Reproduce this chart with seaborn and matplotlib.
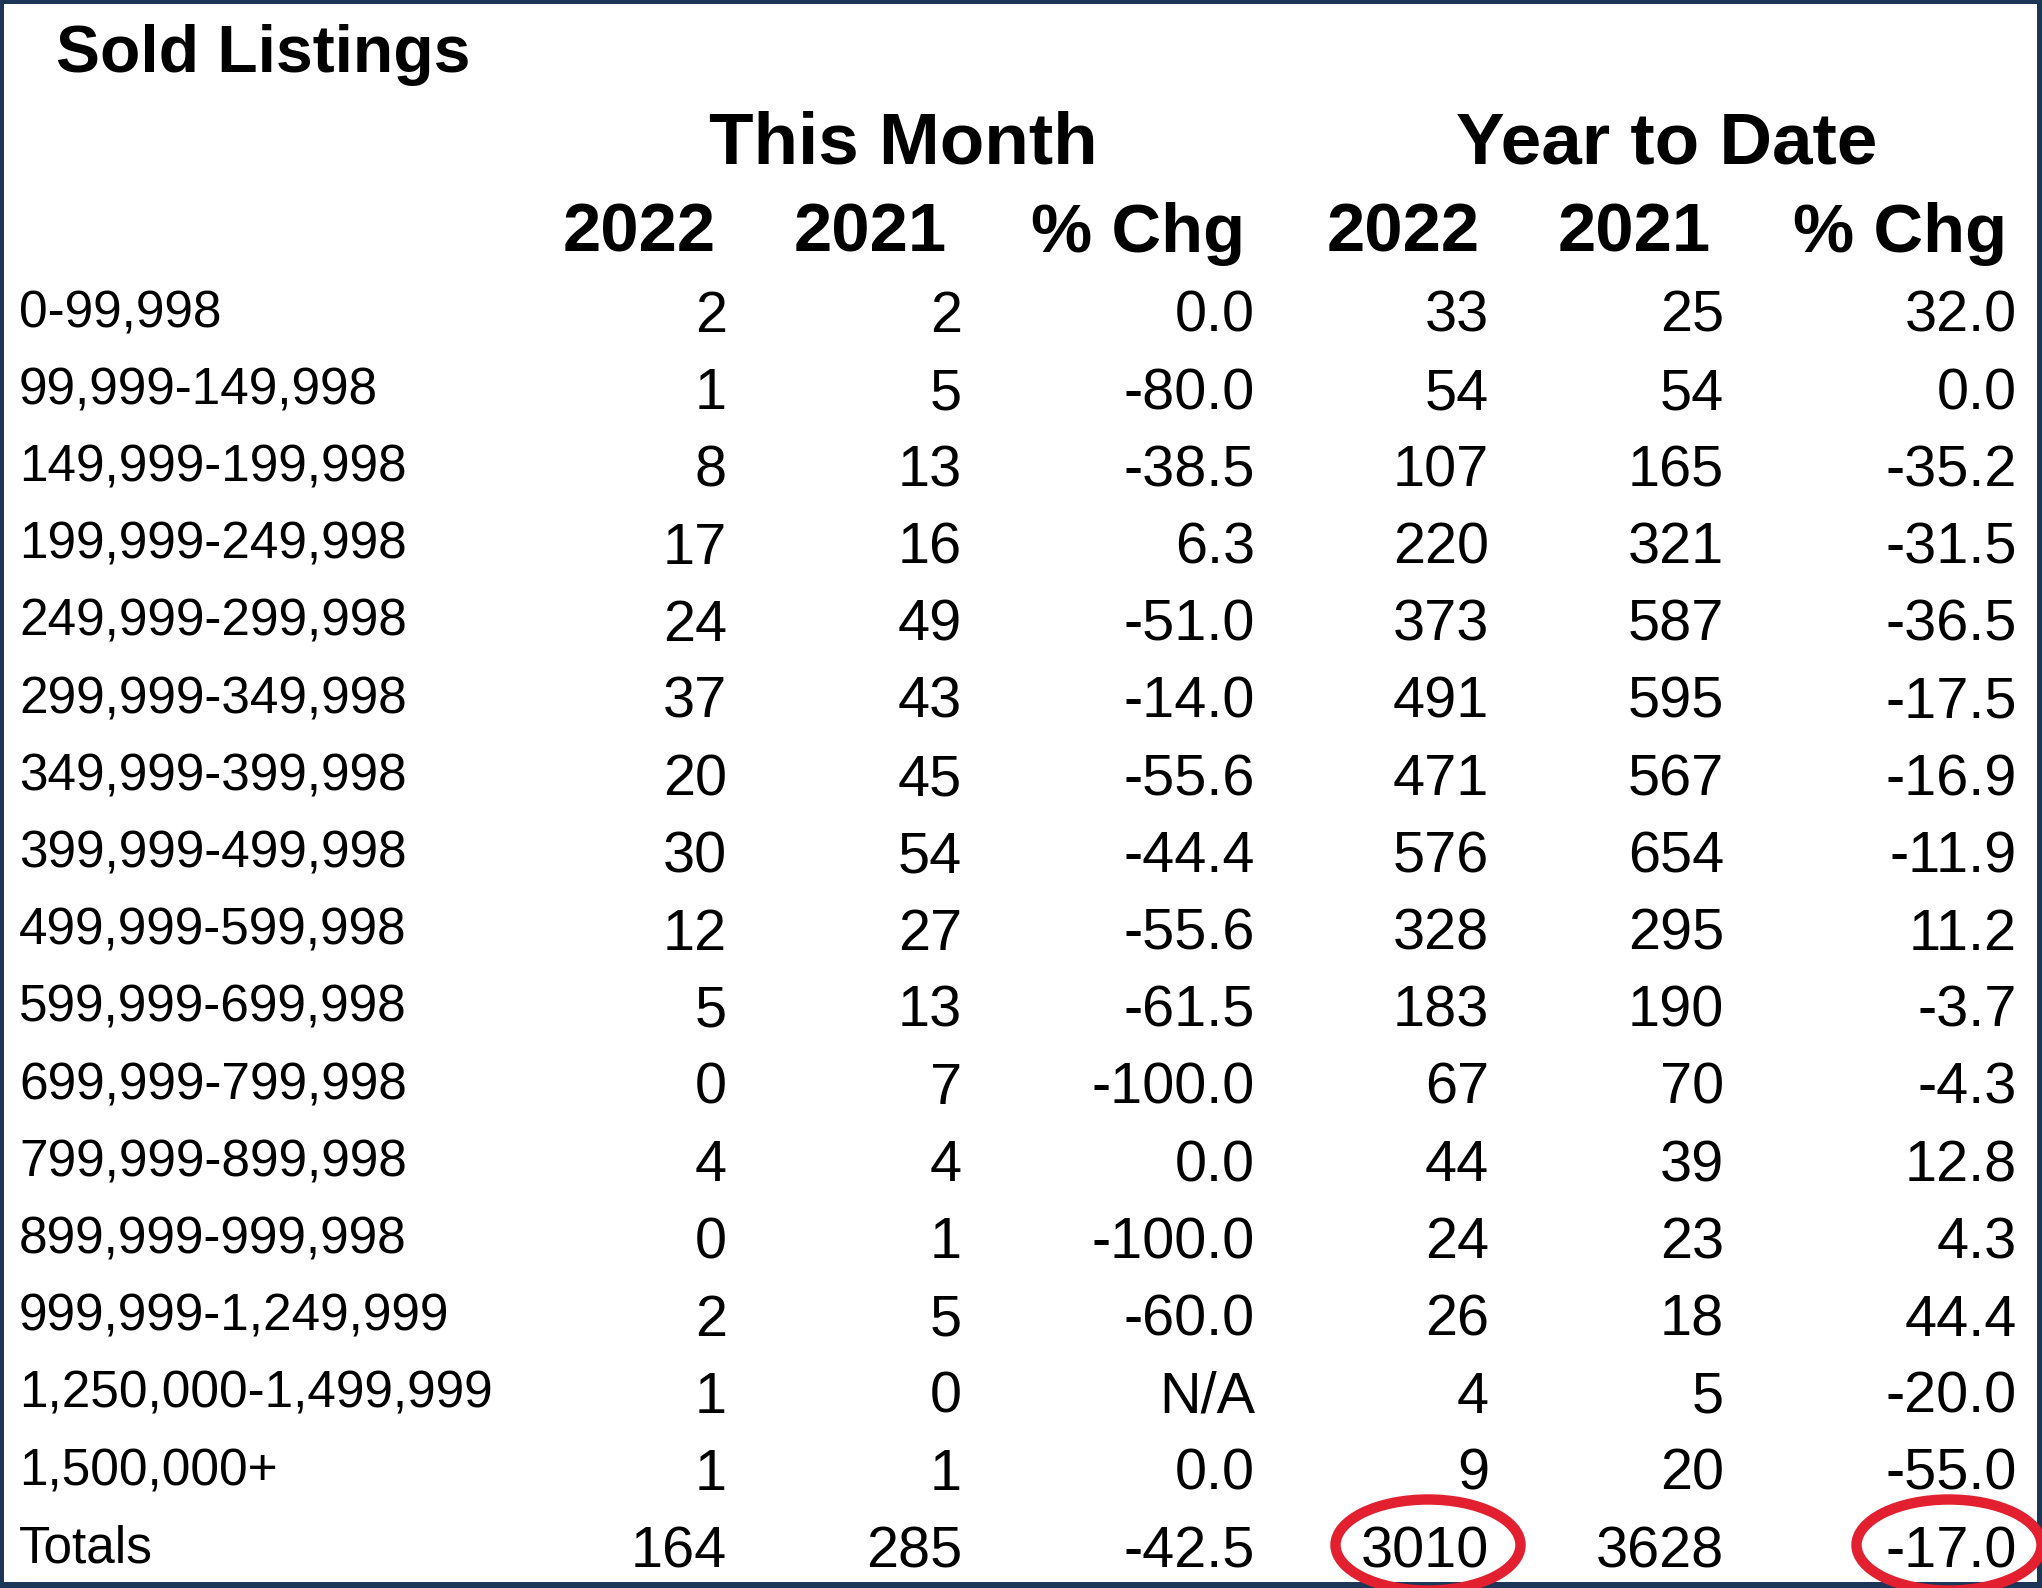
import matplotlib
matplotlib.use("Agg")
import matplotlib.pyplot as plt
from matplotlib.patches import Ellipse, Rectangle
import seaborn as sns

# table data
price_ranges = ["0-99,998", "99,999-149,998", "149,999-199,998", "199,999-249,998",
                "249,999-299,998", "299,999-349,998", "349,999-399,998", "399,999-499,998",
                "499,999-599,998", "599,999-699,998", "699,999-799,998", "799,999-899,998",
                "899,999-999,998", "999,999-1,249,999", "1,250,000-1,499,999", "1,500,000+"]
month_2022 = [2, 1, 8, 17, 24, 37, 20, 30, 12, 5, 0, 4, 0, 2, 1, 1]
month_2021 = [2, 5, 13, 16, 49, 43, 45, 54, 27, 13, 7, 4, 1, 5, 0, 1]
month_chg = [0.0, -80.0, -38.5, 6.3, -51.0, -14.0, -55.6, -44.4, -55.6, -61.5,
             -100.0, 0.0, -100.0, -60.0, None, 0.0]
ytd_2022 = [33, 54, 107, 220, 373, 491, 471, 576, 328, 183, 67, 44, 24, 26, 4, 9]
ytd_2021 = [25, 54, 165, 321, 587, 595, 567, 654, 295, 190, 70, 39, 23, 18, 5, 20]
ytd_chg = [32.0, 0.0, -35.2, -31.5, -36.5, -17.5, -16.9, -11.9, 11.2, -3.7,
           -4.3, 12.8, 4.3, 44.4, -20.0, -55.0]
totals = [164, 285, -42.5, 3010, 3628, -17.0]

col_headers = ["2022", "2021", "% Chg", "2022", "2021", "% Chg"]
group_headers = ["This Month", "Year to Date"]


def fmt(v, pct):
    if v is None:
        return "N/A"
    return f"{v:.1f}" if pct else str(v)


sns.set_theme(style="white")
plt.rcParams["font.family"] = ["Liberation Sans", "DejaVu Sans"]
plt.rcParams["text.color"] = "black"

W, H = 2042, 1588
fig = plt.figure(figsize=(W / 100, H / 100), dpi=100)
ax = fig.add_axes([0, 0, 1, 1])
ax.set_xlim(0, W)
ax.set_ylim(H, 0)
ax.axis("off")

navy = "#1D3658"
ax.add_patch(Rectangle((0, 0), W, 4, color=navy, lw=0))
ax.add_patch(Rectangle((0, 0), 4, H, color=navy, lw=0))
ax.add_patch(Rectangle((0, H - 6), W, 6, color=navy, lw=0))
ax.add_patch(Rectangle((W - 5, 0), 5, H, color=navy, lw=0))

ax.text(56, 72, "Sold Listings", fontsize=47.5, fontweight="bold", va="baseline")

group_x = [903, 1667]
for gx, g in zip(group_x, group_headers):
    ax.text(gx, 163, g, fontsize=52.5, fontweight="bold", ha="center", va="baseline")

head_x = [639, 870, 1138, 1403, 1634, 1900]
for hx, h in zip(head_x, col_headers):
    ax.text(hx, 252, h, fontsize=49.5, fontweight="bold", ha="center", va="baseline")

col_right = [727, 962, 1255, 1489, 1724, 2017]
columns = [month_2022, month_2021, month_chg, ytd_2022, ytd_2021, ytd_chg]
is_pct = [False, False, True, False, False, True]

row_step = 77.2
labels = price_ranges + ["Totals"]
for i, lab in enumerate(labels):
    yb = 327 + row_step * i
    ax.text(19, yb, lab, fontsize=37, va="baseline")
    for j, col in enumerate(columns):
        v = col[i] if i < len(price_ranges) else totals[j]
        ax.text(col_right[j], yb + 5, fmt(v, is_pct[j]), fontsize=41.5,
                ha="right", va="baseline")

# red circles around the YTD totals
red = "#E3202F"
for cx in [1428, 1949]:
    ax.add_patch(Ellipse((cx, 1545), 185, 91, fill=False, ec=red, lw=7.5, zorder=5))

fig.savefig("out.png", dpi=100, facecolor="white")
